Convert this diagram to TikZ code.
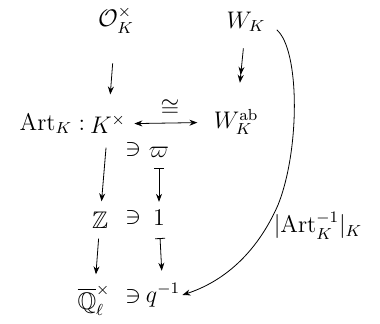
\documentclass[tikz,border=0pt]{standalone}
\usepackage{amsmath,amssymb}
\usetikzlibrary{arrows.meta}
\begin{document}
\begin{tikzpicture}[x=0.5pt,y=-0.5pt,
  every node/.style={font=\large, inner sep=1pt},
  map/.style={-{Stealth[length=4pt]}, thin},
  onto/.style={-{Stealth[length=4pt]Stealth[length=4pt]}, thin},
  mapsto/.style={{Bar[width=5pt]}-{Stealth[length=4pt]}, thin}]
  \useasboundingbox (0,0) rectangle (380,324);

  % Top row
  \node (ok) at (116,20) {$\mathcal{O}_K^{\times}$};
  \node (wk) at (246,22) {$W_K$};

  % Reciprocity row
  \node (kx) at (108,124) {$K^{\times}$};
  \node[anchor=east] (art) at (kx.west) {$\mathrm{Art}_K :$};
  \node (wab) at (236,122) {$W_K^{\mathrm{ab}}$};

  % Elements
  \node (ni1) at (133,150) {$\ni$};
  \node (pi) at (159,152) {$\varpi$};
  \node (zz) at (100,220) {$\mathbb{Z}$};
  \node (ni2) at (133,218) {$\ni$};
  \node (one) at (159,218) {$1$};
  \node (qb) at (94,300) {$\overline{\mathbb{Q}}_\ell^{\times}$};
  \node (ni3) at (133,297) {$\ni$};
  \node (qi) at (163,295) {$q^{-1}$};

  % Label of the curved map
  \node (lab) at (318,226) {$|\mathrm{Art}_K^{-1}|_K$};

  % Vertical maps
  \draw[map, shorten <=14pt, shorten >=9pt] (ok) -- (kx);
  \draw[onto, shorten <=7pt, shorten >=12pt] (wk) -- (wab);
  \draw[map, shorten <=6pt, shorten >=4pt] (kx) -- (zz);
  \draw[map, shorten <=4pt, shorten >=4pt] (zz) -- (qb);
  \draw[mapsto, shorten <=4pt, shorten >=3pt] (pi) -- (one);
  \draw[mapsto, shorten <=5pt, shorten >=5pt] (one) -- (qi);

  % Isomorphism
  \draw[{Stealth[length=4pt]}-{Stealth[length=4pt]}, thin, shorten <=3pt, shorten >=7pt]
    (kx) -- node[above=2pt] {$\cong$} (wab);

  % Curved map
  \draw[map, shorten <=6pt] (wk.east) .. controls (300,50) and (300,150) .. (278,205)
    .. controls (256,255) and (222,282) .. (qi.east);
\end{tikzpicture}
\end{document}
